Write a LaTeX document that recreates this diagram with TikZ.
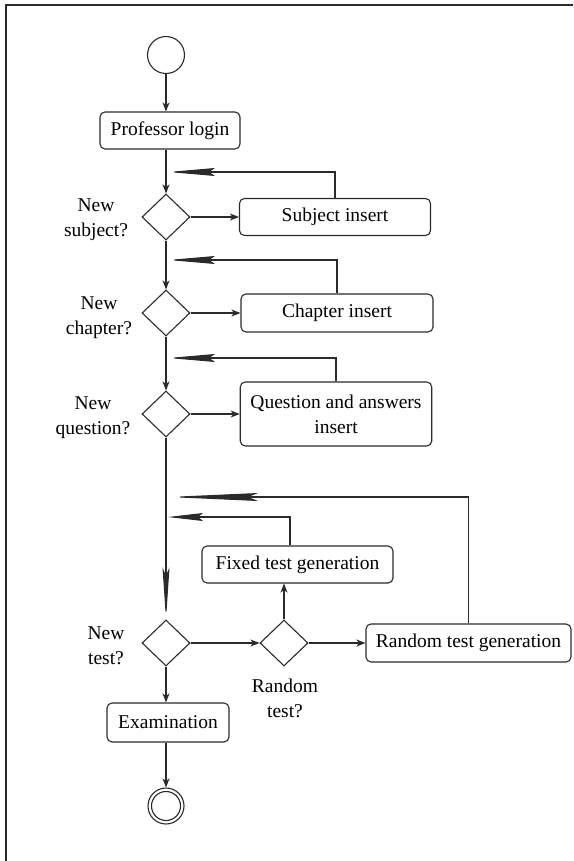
\documentclass[tikz,border=0pt]{standalone}
\usepackage{fontspec}
\setmainfont{Liberation Serif}
\usetikzlibrary{shapes.geometric,arrows.meta}
\definecolor{ink}{HTML}{2A2A2A}
\tikzset{
  box/.style={draw=ink, line width=1.1pt, rounded corners=5pt, inner sep=0pt, align=center},
  dec/.style={draw=ink, line width=1.1pt, diamond, minimum width=48pt, minimum height=46pt, inner sep=0pt},
  lbl/.style={align=center, inner sep=0pt},
  flow/.style={draw=ink, line width=1.1pt, -{Stealth[length=9pt, width=7pt, inset=2.5pt]}},
  ret/.style={draw=ink, line width=1.1pt, -{Stealth[length=47pt, width=8pt, inset=6pt]}},
}
\begin{document}
\begin{tikzpicture}[x=1pt, y=-1pt, font=\rmfamily\fontsize{19.5}{25}\selectfont]
\useasboundingbox (0,0) rectangle (573,861);
\draw[ink, line width=1.6pt] (573,5) -- (6,5) -- (6,861);

\node[draw=ink, line width=1.1pt, circle, minimum size=37pt, inner sep=0pt] (start) at (166,55) {};
\node[box, minimum width=140pt, minimum height=37pt] (login) at (170,130.5) {Professor login};

\node[dec] (d1) at (166,217) {};
\node[box, minimum width=191pt, minimum height=37pt] (subj) at (335,217) {Subject insert};
\node[lbl] (l1) at (96,219.5) {New\\subject?};

\node[dec] (d2) at (166,313) {};
\node[box, minimum width=192pt, minimum height=38pt] (chap) at (337,313) {Chapter insert};
\node[lbl] (l2) at (99,317.5) {New\\chapter?};

\node[dec] (d3) at (166,414) {};
\node[box, minimum width=191.5pt, minimum height=64pt] (quest) at (336,414) {Question and answers\\insert};
\node[lbl] (l3) at (93,417.5) {New\\question?};

\node[box, minimum width=191pt, minimum height=37pt] (fixed) at (297.5,564.5) {Fixed test generation};

\node[dec] (d4) at (166,643) {};
\node[lbl] (l4) at (106,646) {New\\test?};
\node[dec] (d5) at (284,643) {};
\node[lbl] (l5) at (285,698.5) {Random\\test?};
\node[box, minimum width=205pt, minimum height=38pt] (rand) at (468.5,643) {Random test generation};

\node[box, minimum width=122pt, minimum height=39pt] (exam) at (168,722.5) {Examination};

\node[draw=ink, line width=1.1pt, circle, minimum size=36pt, inner sep=0pt] (end) at (166,806) {};
\node[draw=ink, line width=1.1pt, circle, minimum size=29pt, inner sep=0pt] (endin) at (end.center) {};

\coordinate (m1) at (168,172);
\coordinate (m2) at (168,260);
\coordinate (m3) at (168,358);
\coordinate (m4) at (168,497);
\coordinate (m5) at (168,517);
\coordinate (fx) at (290,0);

% main flow
\draw[flow] (start.south) -- (start.south |- login.north);
\draw[flow] (d1.north |- login.south) -- (d1.north);
\draw[flow] (d1.south) -- (d2.north);
\draw[flow] (d2.south) -- (d3.north);
\draw[draw=ink, line width=1.1pt, -{Stealth[length=52pt, width=7pt, inset=8pt]}] (d3.south) -- (d4.north);
\draw[flow] (d4.south) -- (d4.south |- exam.north);
\draw[flow] (d4.south |- exam.south) -- (end.north);

% branches
\draw[flow] (d1.east) -- (subj.west);
\draw[flow] (d2.east) -- (chap.west);
\draw[flow] (d3.east) -- (quest.west);
\draw[flow] (d4.east) -- (d5.west);
\draw[flow] (d5.east) -- (rand.west);
\draw[flow] (d5.north) -- (d5.north |- fixed.south);

% returns
\draw[ret] (subj.north) |- (m1);
\draw[ret] (chap.north) |- (m2);
\draw[ret] (quest.north) |- (m3);
\draw[draw=ink, line width=1.1pt, -{Stealth[length=90pt, width=8pt, inset=10pt]}] (rand.north) |- (m4);
\draw[draw=ink, line width=1.1pt, -{Stealth[length=35pt, width=8pt, inset=5pt]}] (fixed.north -| fx) |- (m5);
\end{tikzpicture}
\end{document}
